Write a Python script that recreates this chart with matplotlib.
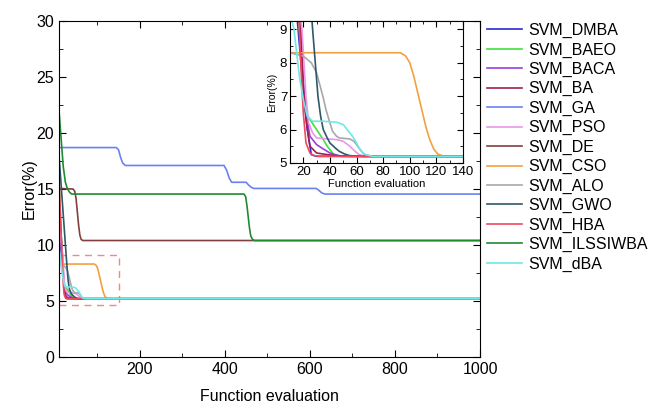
import matplotlib
matplotlib.use("Agg")
import matplotlib.pyplot as plt
from matplotlib.ticker import MultipleLocator
from matplotlib.patches import Rectangle

plt.rcParams['font.family'] = ['Liberation Sans', 'DejaVu Sans']

labels = ["SVM_DMBA", "SVM_BAEO", "SVM_BACA", "SVM_BA", "SVM_GA", "SVM_PSO",
          "SVM_DE", "SVM_CSO", "SVM_ALO", "SVM_GWO", "SVM_HBA", "SVM_ILSSIWBA", "SVM_dBA"]
colors = ["#2a2ad0", "#40e040", "#9a40d8", "#a02050", "#6a82f0", "#e898e8",
          "#844040", "#f4a040", "#a8a8a8", "#305868", "#f04860", "#208a30", "#70e8e8"]

x_dmba = [10, 15, 20, 23, 26, 30, 1000]
y_dmba = [13.0, 9.5, 7.2, 6.0, 5.25, 5.2, 5.2]

x_baeo = [10, 17, 20, 22, 25, 30, 35, 38, 43, 50, 1000]
y_baeo = [16.0, 9.0, 7.2, 6.5, 6.3, 6.0, 5.7, 5.5, 5.25, 5.2, 5.2]

x_baca = [10, 18, 20, 22, 25, 30, 35, 40, 48, 1000]
y_baca = [12.0, 9.0, 7.5, 6.5, 5.8, 5.55, 5.42, 5.3, 5.2, 5.2]

x_ba = [10, 18, 20, 22, 25, 30, 38, 45, 55, 1000]
y_ba = [14.0, 9.0, 7.3, 6.3, 5.5, 5.3, 5.25, 5.22, 5.2, 5.2]

x_ga = [10, 145, 150, 155, 160, 166, 398, 404, 410, 416, 450, 456, 462, 468, 615, 622, 628, 635, 1000]
y_ga = [18.7, 18.7, 18.5, 17.8, 17.3, 17.1, 17.1, 16.7, 16.0, 15.6, 15.6, 15.35, 15.15, 15.05, 15.05, 14.85, 14.65, 14.55, 14.55]

x_pso = [10, 19, 22, 24, 27, 30, 38, 45, 50, 55, 58, 62, 66, 70, 1000]
y_pso = [12.0, 9.0, 7.0, 6.2, 5.9, 5.75, 5.72, 5.7, 5.65, 5.5, 5.38, 5.25, 5.21, 5.2, 5.2]

x_de = [10, 43, 47, 50, 53, 56, 59, 62, 66, 1000]
y_de = [15.05, 15.0, 14.8, 14.2, 13.0, 11.8, 10.9, 10.5, 10.4, 10.4]

x_cso = [10, 93, 97, 100, 103, 106, 109, 112, 115, 118, 121, 125, 130, 1000]
y_cso = [8.3, 8.3, 8.2, 8.0, 7.6, 7.1, 6.6, 6.1, 5.7, 5.42, 5.27, 5.21, 5.2, 5.2]

x_alo = [10, 20, 26, 30, 32, 35, 37, 40, 42, 45, 47, 55, 58, 60, 63, 66, 72, 1000]
y_alo = [8.3, 8.2, 8.0, 7.7, 7.4, 6.95, 6.6, 6.2, 5.95, 5.8, 5.75, 5.72, 5.65, 5.55, 5.38, 5.25, 5.2, 5.2]

x_gwo = [10, 27, 29, 31, 33, 35, 38, 40, 44, 47, 51, 55, 65, 1000]
y_gwo = [18.0, 9.0, 8.0, 7.0, 6.4, 6.0, 5.75, 5.6, 5.45, 5.35, 5.27, 5.22, 5.2, 5.2]

x_hba = [10, 17, 19, 20, 22, 25, 28, 32, 1000]
y_hba = [16.0, 9.0, 7.2, 6.5, 5.6, 5.3, 5.22, 5.2, 5.2]

x_ilssiwba = [10, 15, 20, 25, 30, 35, 40, 445, 449, 452, 455, 458, 461, 465, 470, 1000]
y_ilssiwba = [22.0, 19.5, 17.0, 15.6, 15.0, 14.7, 14.55, 14.55, 14.3, 13.5, 12.5, 11.5, 10.8, 10.5, 10.4, 10.4]

x_dba = [10, 13, 15, 17, 20, 23, 27, 35, 45, 50, 53, 57, 60, 62, 65, 67, 72, 1000]
y_dba = [9.5, 9.0, 8.3, 7.6, 6.9, 6.4, 6.25, 6.25, 6.22, 6.15, 6.0, 5.8, 5.6, 5.45, 5.3, 5.25, 5.2, 5.2]

series_x = [x_dmba, x_baeo, x_baca, x_ba, x_ga, x_pso, x_de, x_cso, x_alo, x_gwo, x_hba, x_ilssiwba, x_dba]
series_y = [y_dmba, y_baeo, y_baca, y_ba, y_ga, y_pso, y_de, y_cso, y_alo, y_gwo, y_hba, y_ilssiwba, y_dba]

zoom_box_x = [10, 150]
zoom_box_y = [4.65, 9.1]

W, H = 659, 407
fig = plt.figure(figsize=(W / 100, H / 100), dpi=100)
ax = fig.add_axes([59 / W, 1 - 357 / H, (480 - 59) / W, (357 - 21) / H])

handles = []
for xs, ys, c, lab in zip(series_x, series_y, colors, labels):
    h, = ax.plot(xs, ys, color=c, lw=1.2, label=lab)
    handles.append(h)

ax.add_patch(Rectangle((zoom_box_x[0], zoom_box_y[0]), zoom_box_x[1] - zoom_box_x[0],
                       zoom_box_y[1] - zoom_box_y[0], fill=False, ls=(0, (5, 4)),
                       ec="#f08888", lw=1.0))

ax.set_xlim(10, 1000)
ax.set_ylim(0, 30)
ax.xaxis.set_major_locator(MultipleLocator(200))
ax.xaxis.set_minor_locator(MultipleLocator(100))
ax.yaxis.set_major_locator(MultipleLocator(5))
ax.yaxis.set_minor_locator(MultipleLocator(2.5))
ax.tick_params(which='both', direction='in', top=True, right=True, labelsize=11.5)
ax.tick_params(which='major', length=5)
ax.tick_params(which='minor', length=3)
ax.set_xlabel("Function evaluation", fontsize=11.5, labelpad=9)
ax.set_ylabel("Error(%)", fontsize=11.5, labelpad=0)

# inset
ins = fig.add_axes([290 / W, 1 - 163 / H, (463 - 290) / W, (163 - 21) / H])
for xs, ys, c in zip(series_x, series_y, colors):
    ins.plot(xs, ys, color=c, lw=1.2)
ins.set_xlim(10, 140)
ins.set_ylim(5, 9.25)
ins.xaxis.set_major_locator(MultipleLocator(20))
ins.xaxis.set_minor_locator(MultipleLocator(10))
ins.yaxis.set_major_locator(MultipleLocator(1))
ins.yaxis.set_minor_locator(MultipleLocator(0.5))
ins.tick_params(which='both', direction='in', top=True, right=True, labelsize=9.5, pad=2)
ins.tick_params(which='major', length=4)
ins.tick_params(which='minor', length=2)
ins.set_xlabel("Function evaluation", fontsize=8, labelpad=1)
ins.set_ylabel("Error(%)", fontsize=7.5, labelpad=2)

fig.legend(handles=handles, loc='upper left', bbox_to_anchor=(487 / W, 1 - 23 / H),
           frameon=False, fontsize=11.5, handlelength=2.2, handletextpad=0.4,
           labelspacing=0.27, borderaxespad=0, borderpad=0)

fig.savefig("out.png", dpi=100)
